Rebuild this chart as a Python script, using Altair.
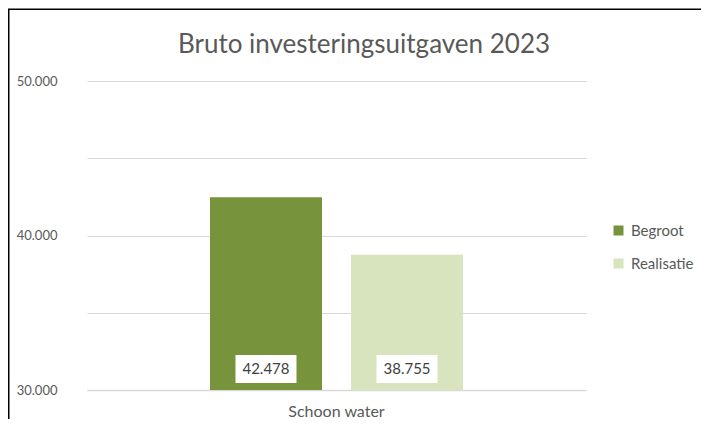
import altair as alt
import pandas as pd

categories = ["Schoon water"]
series = ["Begroot", "Realisatie"]
values = [42478, 38755]
labels = ["42.478", "38.755"]
colors = ["#77933C", "#D7E4BD"]
y_ticks = [30000, 35000, 40000, 45000, 50000]
y_domain = [30000, 50000]
title_text = "Bruto investeringsuitgaven 2023"

df = pd.DataFrame({
    "cat": categories * len(series),
    "series": series,
    "value": values,
    "label": labels,
    "base": [y_domain[0]] * len(series),
})

W, H = 499, 309
FONT = "Lato"
GREY = "#595959"

x_enc = alt.X("cat:N", title=None,
              scale=alt.Scale(paddingInner=0, paddingOuter=0.486),
              axis=alt.Axis(labelAngle=0, labelFontSize=16, labelColor=GREY, labelFont=FONT,
                            domainColor="#d9d9d9", domainWidth=1.5, ticks=False, labelPadding=13))
xo_enc = alt.XOffset("series:N", sort=series,
                     scale=alt.Scale(paddingInner=0.2057, paddingOuter=0))
y_enc = alt.Y("value:Q", title=None,
              scale=alt.Scale(domain=y_domain, zero=False, nice=False),
              axis=alt.Axis(values=y_ticks, grid=True, gridColor="#d9d9d9", gridWidth=1,
                            domain=False, ticks=False, labelPadding=30, labelFontSize=13,
                            labelColor=GREY, labelFont=FONT,
                            labelExpr="datum.value % 10000 == 0 ? replace(format(datum.value, ','), ',', '.') : ''"))

color_enc = alt.Color("series:N", sort=series,
                      scale=alt.Scale(domain=series, range=colors),
                      legend=alt.Legend(title=None, orient="none", legendX=524, legendY=142,
                                        symbolType="square", symbolSize=100, symbolStrokeWidth=0,
                                        labelFontSize=15, labelColor=GREY, labelFont=FONT,
                                        labelOffset=5, rowPadding=17, padding=0))

base = alt.Chart(df)

bars = base.mark_bar().encode(
    x=x_enc, xOffset=xo_enc, y=y_enc, y2=alt.Y2("base:Q"), color=color_enc
)

boxes = base.mark_point(
    shape="M-1,-0.459L1,-0.459L1,0.459L-1,0.459Z", size=3721, filled=True,
    color="white", opacity=1, yOffset=-21
).encode(x=x_enc, xOffset=xo_enc, y=alt.Y("base:Q"))

texts = base.mark_text(
    fontSize=15, color="#404040", font=FONT, baseline="middle", yOffset=-21
).encode(x=x_enc, xOffset=xo_enc, y=alt.Y("base:Q"), text="label:N")

frame_df = pd.DataFrame({"a": [0]})
left_line = alt.Chart(frame_df).mark_rule(color="black", strokeWidth=1.5).encode(
    x=alt.value(-78.25), y=alt.value(-72), y2=alt.value(H + 60))
top_line = alt.Chart(frame_df).mark_rule(color="black", strokeWidth=1.5).encode(
    x=alt.value(-79), x2=alt.value(W + 200), y=alt.value(-71.75))

title_df = pd.DataFrame({"t": [title_text]})
title_mark = alt.Chart(title_df).mark_text(
    fontSize=26, color=GREY, font=FONT, align="center", baseline="alphabetic"
).encode(x=alt.value(277), y=alt.value(-28), text="t:N")

chart = alt.layer(bars, boxes, texts, left_line, top_line, title_mark).properties(
    width=W, height=H,
    padding={"left": 79, "top": 73, "right": 115, "bottom": 29},
    autosize=alt.AutoSizeParams(type="none"),
).configure_view(stroke=None)

chart.save("out.html", embed_options={"renderer": "svg", "actions": False})
